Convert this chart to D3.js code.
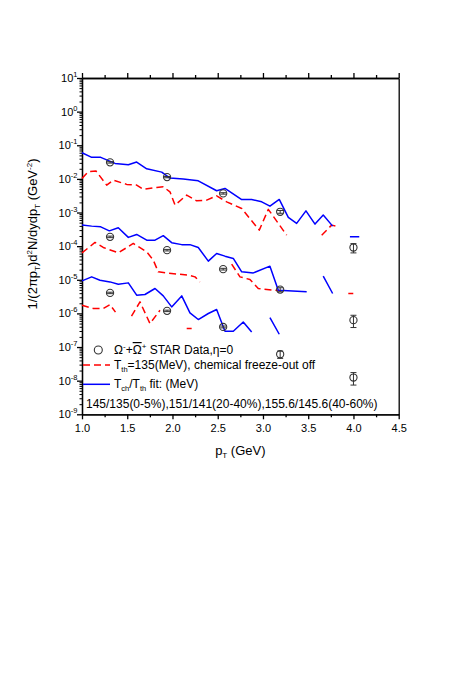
<!DOCTYPE html>
<html><head><meta charset="utf-8">
<script src="https://cdn.jsdelivr.net/npm/d3@7/dist/d3.min.js"></script>
<style>
body{margin:0;background:#fff}
svg{display:block}
text{font-family:"Liberation Sans",Arial,Helvetica,sans-serif;fill:#000}
</style>
</head><body>
<svg id="c" width="463" height="674"></svg>
<script>
// ---------------- DATA ----------------
// axis ticks
const xTicks = [1.0, 1.5, 2.0, 2.5, 3.0, 3.5, 4.0, 4.5];
const xTickLabels = ["1.0", "1.5", "2.0", "2.5", "3.0", "3.5", "4.0", "4.5"];
const xMinorTicks = [1.25, 1.75, 2.25, 2.75, 3.25, 3.75, 4.25];
const yTickExponents = [-9, -8, -7, -6, -5, -4, -3, -2, -1, 0, 1];

// STAR data points (Omega- + anti-Omega+), eta = 0
const starPT = [1.31, 1.94, 2.56, 3.19, 4.0];
const star_0_5 = [3.1e-2, 1.13e-2, 3.7e-3, 1.05e-3, 9.1e-5];
const star_0_5_err = [1.5e-3, 5e-4, 1.8e-4, 1.0e-4, 2.8e-5];
const star_20_40 = [1.89e-4, 7.6e-5, 2.07e-5, 5.1e-6, 6.3e-7];
const star_20_40_err = [1.0e-5, 4e-6, 1.2e-6, 7e-7, 2.5e-7];
const star_40_60 = [4.07e-6, 1.19e-6, 3.96e-7, 6.1e-8, 1.24e-8];
const star_40_60_err = [2.0e-7, 6e-8, 2.5e-8, 1.5e-8, 5e-9];

// Tch/Tth fit curves (blue, solid); null = gap
const fit_0_5_pT = [1.00, 1.107, 1.207, 1.365, 1.512, 1.604, 1.715, 1.881, 1.972, 2.119, 2.285, 2.488, 2.580, 2.765, 2.875, 2.986, 3.077, 3.180, 3.280, 3.372, 3.475, 3.575, 3.666, 3.770, null, 3.961, 4.064];
const fit_0_5 = [5.98e-2, 4.37e-2, 4.37e-2, 2.89e-2, 2.63e-2, 3.16e-2, 2.0e-2, 1.59e-2, 1.06e-2, 9.86e-3, 8.77e-3, 4.43e-3, 5.21e-3, 2.42e-3, 2.45e-3, 2.08e-3, 1.55e-3, 2.45e-3, 7.14e-4, 4.74e-4, 1.12e-3, 4.52e-4, 8.38e-4, 3.94e-4, null, 1.89e-4, 1.89e-4];

const fit_20_40_pT = [1.00, 1.107, 1.207, 1.302, 1.401, 1.512, 1.604, 1.715, 1.807, 1.898, 1.991, 2.102, 2.193, 2.285, 2.396, 2.488, 2.580, 2.672, 2.765, 2.893, 3.077, 3.169, 3.483, null, 3.666, 3.770];
const fit_20_40 = [4.22e-4, 3.94e-4, 3.75e-4, 2.85e-4, 3.51e-4, 1.82e-4, 2.23e-4, 1.51e-4, 1.51e-4, 2.05e-4, 1.27e-4, 1.11e-4, 1.11e-4, 9.14e-5, 3.58e-5, 6.07e-5, 5.04e-5, 4.31e-5, 1.72e-5, 1.60e-5, 2.54e-5, 4.90e-6, 4.37e-6, null, 1.28e-5, 3.91e-6];

const fit_40_60_pT = [1.00, 1.107, 1.199, 1.309, 1.401, 1.512, 1.604, 1.696, 1.807, 1.898, 1.991, 2.102, 2.193, 2.285, 2.396, 2.488, 2.580, 2.672, 2.782, 2.875, null, 3.077, 3.180];
const fit_40_60 = [9.27e-6, 1.22e-5, 9.72e-6, 8.65e-6, 7.40e-6, 8.09e-6, 3.48e-6, 3.65e-6, 5.51e-6, 3.32e-6, 1.56e-6, 3.32e-6, 1.04e-6, 6.58e-7, 9.93e-7, 1.31e-6, 2.95e-7, 2.95e-7, 5.58e-7, 2.81e-7, null, 7.55e-7, 2.40e-7];

// Tth = 135 MeV, chemical freeze-out off (red, dashed)
const off_0_5_pT = [1.00, 1.070, 1.155, 1.273, 1.346, 1.494, 1.604, 1.677, 1.825, 1.898, 1.972, 2.028, 2.157, 2.267, 2.378, 2.488, 2.599, 2.765, 2.959, 3.059, 3.262, null, 3.649, 3.759, 3.807];
const off_0_5 = [1.035e-2, 1.63e-2, 1.71e-2, 6.53e-3, 9.20e-3, 6.86e-3, 6.53e-3, 4.86e-3, 5.58e-3, 5.82e-3, 4.13e-3, 1.66e-3, 3.30e-3, 2.23e-3, 2.34e-3, 3.14e-3, 2.08e-3, 1.32e-3, 2.99e-4, 1.24e-3, 2.12e-4, null, 2.12e-4, 4.22e-4, 3.94e-4];

const off_20_40_pT = [1.00, 1.144, 1.235, 1.401, 1.567, 1.715, 1.788, 1.843, 1.936, 2.175, 2.249, 2.304, null, 2.654, 2.746, 2.856, 2.948, 3.188, null, 3.943, 3.998];
const off_20_40 = [6.32e-5, 1.29e-4, 9.14e-5, 6.32e-5, 1.20e-4, 6.76e-5, 3.83e-5, 1.72e-5, 1.60e-5, 1.37e-5, 1.22e-5, 8.65e-6, null, 2.91e-5, 1.22e-5, 1.02e-5, 5.51e-6, 4.68e-6, null, 3.91e-6, 3.91e-6];

const off_40_60_pT = [1.00, 1.125, 1.235, 1.309, 1.370, null, 1.547, 1.641, 1.751, 1.862, null, 2.157, 2.212];
const off_40_60 = [1.75e-6, 1.40e-6, 1.40e-6, 1.82e-6, 1.09e-6, null, 8.26e-7, 2.20e-6, 5.00e-7, 1.24e-6, null, 3.56e-7, 3.56e-7];

// ---------------- DRAW ----------------
const svg = d3.select("#c");
const X0 = 82, X1 = 398.7, Y0 = 78, Y1 = 414.3;
const x = d3.scaleLinear().domain([1, 4.5]).range([X0, X1]);
const y = d3.scaleLog().domain([1e-9, 1e1]).range([Y1, Y0]);
const AX = 1.3;

function styleAxis(g) {
  g.selectAll("path.domain").attr("stroke", "#000").attr("stroke-width", AX);
  g.selectAll(".tick line").attr("stroke", "#000").attr("stroke-width", AX);
}

// bottom axis
const gB = svg.append("g").attr("transform", `translate(0,${Y1})`)
  .call(d3.axisBottom(x).tickValues(xTicks).tickSize(5).tickSizeOuter(0).tickPadding(5)
    .tickFormat((d, i) => xTickLabels[i]));
styleAxis(gB);
gB.selectAll(".tick text").attr("font-size", 11).attr("font-family", "Liberation Sans, Arial, sans-serif").attr("fill", "#000");
const gBm = svg.append("g").attr("transform", `translate(0,${Y1})`)
  .call(d3.axisBottom(x).tickValues(xMinorTicks).tickSize(3).tickSizeOuter(0).tickFormat(""));
styleAxis(gBm);

// top axis
const gT = svg.append("g").attr("transform", `translate(0,${Y0})`)
  .call(d3.axisTop(x).tickValues(xTicks).tickSize(5).tickSizeOuter(0).tickFormat(""));
styleAxis(gT);
const gTm = svg.append("g").attr("transform", `translate(0,${Y0})`)
  .call(d3.axisTop(x).tickValues(xMinorTicks).tickSize(3).tickSizeOuter(0).tickFormat(""));
styleAxis(gTm);

// left axis
const yMajor = yTickExponents.map(e => Math.pow(10, e));
const yMinor = [];
yTickExponents.slice(0, -1).forEach(e => { for (let k = 2; k <= 9; k++) yMinor.push(k * Math.pow(10, e)); });
const gL = svg.append("g").attr("transform", `translate(${X0},0)`)
  .call(d3.axisLeft(y).tickValues(yMajor).tickSize(5).tickSizeOuter(0).tickFormat(""));
styleAxis(gL);
const gLm = svg.append("g").attr("transform", `translate(${X0},0)`)
  .call(d3.axisLeft(y).tickValues(yMinor).tickSize(2.5).tickSizeOuter(0).tickFormat(""));
styleAxis(gLm);
gLm.selectAll(".tick line").attr("stroke-width", 1);

// right axis (line only)
const gR = svg.append("g").attr("transform", `translate(${X1},0)`)
  .call(d3.axisRight(y).tickValues([]).tickSizeOuter(0));
styleAxis(gR);

// y tick labels 10^n
yTickExponents.forEach(e => {
  const t = svg.append("text").attr("x", 77.5).attr("y", y(Math.pow(10, e)) + 4)
    .attr("text-anchor", "end").attr("font-size", 11);
  t.append("tspan").text("10");
  t.append("tspan").attr("dy", -5).attr("font-size", 7.5).text(String(e));
});

// axis titles
const xt = svg.append("text").attr("x", (X0 + X1) / 2).attr("y", 455).attr("text-anchor", "middle").attr("font-size", 13);
xt.append("tspan").text("p");
xt.append("tspan").attr("dy", 3).attr("font-size", 8).text("T");
xt.append("tspan").attr("dy", -3).text(" (GeV)");

const yt = svg.append("text").attr("transform", `translate(37,234) rotate(-90)`)
  .attr("text-anchor", "middle").attr("font-size", 13);
yt.append("tspan").text("1/(2πp");
yt.append("tspan").attr("dy", 3).attr("font-size", 8).text("T");
yt.append("tspan").attr("dy", -3).text(")d");
yt.append("tspan").attr("dy", -5).attr("font-size", 8).text("2");
yt.append("tspan").attr("dy", 5).text("N/dydp");
yt.append("tspan").attr("dy", 3).attr("font-size", 8).text("T");
yt.append("tspan").attr("dy", -3).text(" (GeV");
yt.append("tspan").attr("dy", -5).attr("font-size", 8).text("-2");
yt.append("tspan").attr("dy", 5).text(")");

// curves
const line = d3.line().defined(d => d[0] != null && d[1] != null).x(d => x(d[0])).y(d => y(d[1]));
const plotG = svg.append("g");
function drawCurve(ps, vs, color, dash) {
  const pts = ps.map((p, i) => [p, vs[i]]);
  plotG.append("path").datum(pts).attr("d", line)
    .attr("fill", "none").attr("stroke", color).attr("stroke-width", 1.5)
    .attr("stroke-dasharray", dash || null).attr("stroke-linejoin", "round");
}
const RED = "#ff0000", BLUE = "#0000ff", DASH = "7,4";
drawCurve(off_0_5_pT, off_0_5, RED, DASH);
drawCurve(off_20_40_pT, off_20_40, RED, DASH);
drawCurve(off_40_60_pT, off_40_60, RED, DASH);
drawCurve(fit_0_5_pT, fit_0_5, BLUE);
drawCurve(fit_20_40_pT, fit_20_40, BLUE);
drawCurve(fit_40_60_pT, fit_40_60, BLUE);

// data points
const SYM = "#333";
function drawData(vals, errs) {
  vals.forEach((v, i) => {
    const cx = x(starPT[i]);
    const yt = y(v + errs[i]), yb = y(v - errs[i]);
    const g = plotG.append("g");
    g.append("line").attr("x1", cx).attr("x2", cx).attr("y1", yt).attr("y2", yb).attr("stroke", SYM).attr("stroke-width", 1);
    [yt, yb].forEach(yy => g.append("line").attr("x1", cx - 3).attr("x2", cx + 3).attr("y1", yy).attr("y2", yy).attr("stroke", SYM).attr("stroke-width", 1));
    g.append("circle").attr("cx", cx).attr("cy", y(v)).attr("r", 3.6).attr("fill", "none").attr("stroke", SYM).attr("stroke-width", 1.1);
  });
}
drawData(star_0_5, star_0_5_err);
drawData(star_20_40, star_20_40_err);
drawData(star_40_60, star_40_60_err);

// legend
const leg = svg.append("g");
leg.append("circle").attr("cx", 98.3).attr("cy", 350).attr("r", 4).attr("fill", "none").attr("stroke", SYM).attr("stroke-width", 1.1);
const l1 = leg.append("text").attr("x", 114).attr("y", 354).attr("font-size", 12);
l1.append("tspan").text("Ω");
l1.append("tspan").attr("dy", -5).attr("font-size", 8).text("-");
l1.append("tspan").attr("dy", 5).text("+");
l1.append("tspan").attr("style", "text-decoration:overline").text("Ω");
l1.append("tspan").attr("dy", -5).attr("font-size", 8).text("+");
l1.append("tspan").attr("dy", 5).text(" STAR Data,η=0");

leg.append("line").attr("x1", 83).attr("x2", 110).attr("y1", 365).attr("y2", 365)
  .attr("stroke", RED).attr("stroke-width", 1.5).attr("stroke-dasharray", DASH);
const l2 = leg.append("text").attr("x", 114).attr("y", 369).attr("font-size", 12);
l2.append("tspan").text("T");
l2.append("tspan").attr("dy", 3).attr("font-size", 7.5).text("th");
l2.append("tspan").attr("dy", -3).text("=135(MeV), chemical freeze-out off");

leg.append("line").attr("x1", 83).attr("x2", 110).attr("y1", 384.3).attr("y2", 384.3)
  .attr("stroke", BLUE).attr("stroke-width", 1.5);
const l3 = leg.append("text").attr("x", 114).attr("y", 388.3).attr("font-size", 12);
l3.append("tspan").text("T");
l3.append("tspan").attr("dy", 3).attr("font-size", 7.5).text("ch");
l3.append("tspan").attr("dy", -3).text("/T");
l3.append("tspan").attr("dy", 3).attr("font-size", 7.5).text("th");
l3.append("tspan").attr("dy", -3).text(" fit: (MeV)");

leg.append("text").attr("x", 86).attr("y", 408.3).attr("font-size", 12)
  .text("145/135(0-5%),151/141(20-40%),155.6/145.6(40-60%)");
</script>
</body></html>
